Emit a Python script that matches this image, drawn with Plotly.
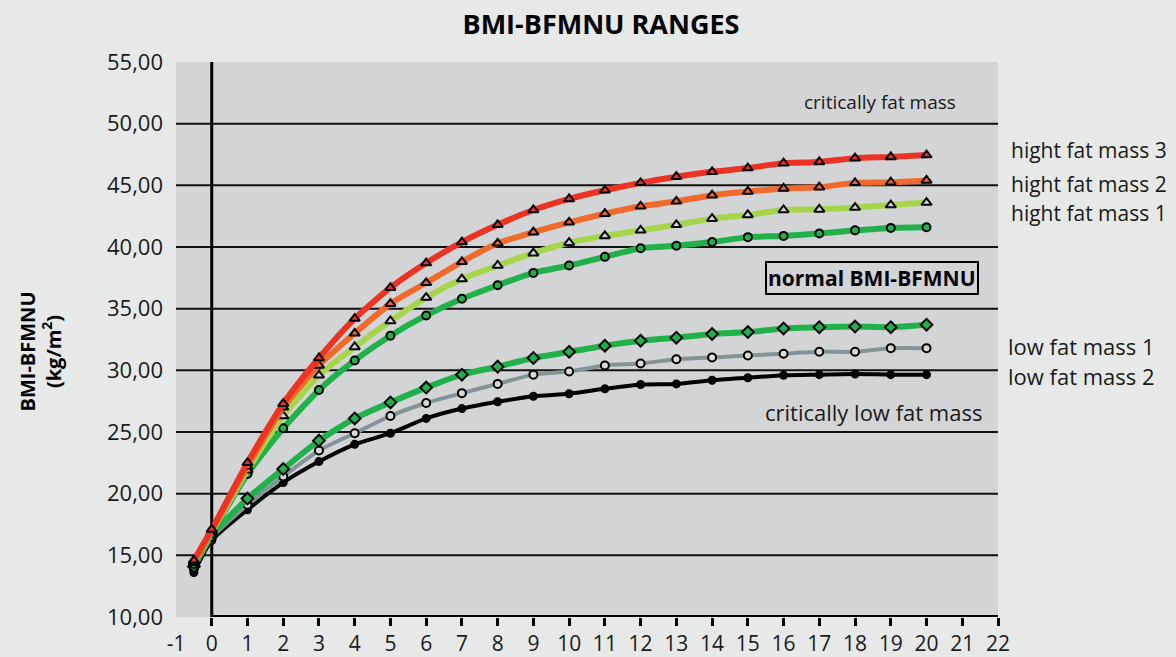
import plotly.graph_objects as go

# ---------------- data ----------------
ages = [-0.5, 0, 1, 2, 3, 4, 5, 6, 7, 8, 9, 10, 11, 12, 13, 14, 15, 16, 17, 18, 19, 20]

high_fat_3 = [14.6, 17.1, 22.5, 27.3, 31.0, 34.2, 36.7, 38.7, 40.4, 41.8, 43.0, 43.9,
              44.6, 45.2, 45.7, 46.1, 46.4, 46.8, 46.9, 47.2, 47.3, 47.45]
high_fat_2 = [14.5, 17.0, 22.2, 27.0, 30.4, 33.0, 35.4, 37.1, 38.8, 40.3, 41.2, 42.0,
              42.7, 43.3, 43.7, 44.2, 44.5, 44.75, 44.85, 45.2, 45.25, 45.4]
high_fat_1 = [14.4, 16.9, 21.9, 26.3, 29.6, 31.9, 34.0, 35.9, 37.4, 38.5, 39.5, 40.35,
              40.9, 41.35, 41.8, 42.3, 42.6, 43.0, 43.05, 43.2, 43.4, 43.6]
normal_upper = [14.3, 16.8, 21.6, 25.3, 28.4, 30.8, 32.8, 34.45, 35.8, 36.9, 37.9, 38.5,
                39.2, 39.9, 40.1, 40.4, 40.8, 40.9, 41.1, 41.35, 41.55, 41.6]
low_fat_1 = [14.1, 16.6, 19.6, 22.0, 24.3, 26.1, 27.4, 28.6, 29.65, 30.3, 31.0, 31.5,
             32.0, 32.4, 32.65, 32.95, 33.1, 33.4, 33.5, 33.55, 33.5, 33.7]
low_fat_2 = [13.9, 16.4, 19.1, 21.4, 23.5, 24.9, 26.3, 27.35, 28.15, 28.9, 29.65, 29.9,
             30.4, 30.55, 30.9, 31.05, 31.2, 31.35, 31.5, 31.5, 31.8, 31.8]
critical_low = [13.6, 16.2, 18.7, 20.9, 22.6, 24.0, 24.9, 26.1, 26.9, 27.45, 27.9, 28.1,
                28.5, 28.85, 28.9, 29.2, 29.4, 29.6, 29.65, 29.7, 29.65, 29.65]

x_tick_vals = list(range(-1, 23))
x_tick_text = [str(v).replace("\u2212", "-") for v in x_tick_vals]
x_minor_ticks = list(range(0, 23))
y_tick_vals = [10, 15, 20, 25, 30, 35, 40, 45, 50, 55]
grid_lines = [15, 20, 25, 30, 35, 40, 45, 50]

# ---------------- styles ----------------
PAPER = "#e6e9e8"
PLOT = "#d3d4d6"
FONT = "Open Sans"

W, H = 1176, 657
ML, MR, MT, MB = 176, 178, 62, 40
PW = W - ML - MR
PH = H - MT - MB


def px_x(px):
    """page pixel x -> paper fraction"""
    return (px - ML) / PW


def px_y(py):
    return (H - MB - py) / PH


series = [
    ("critically low", critical_low, "#000000", 4, "circle", "#000000", 7),
    ("low fat mass 2", low_fat_2, "#82949a", 4, "circle", "#d8d8d8", 8),
    ("low fat mass 1", low_fat_1, "#21b14b", 6, "diamond", "#21b14b", 9),
    ("normal", normal_upper, "#21b14b", 6, "circle", "#21b14b", 8),
    ("hight fat mass 1", high_fat_1, "#a6d54a", 6, "triangle-up", "#d8d8d8", 9),
    ("hight fat mass 2", high_fat_2, "#f26a2b", 6, "triangle-up", "#f26a2b", 9),
    ("hight fat mass 3", high_fat_3, "#ec3324", 6, "triangle-up", "#ec3324", 9),
]

fig = go.Figure()
for name, vals, col, lw, sym, fill, ms in series:
    fig.add_trace(go.Scatter(
        x=ages, y=vals, name=name, mode="lines+markers",
        line=dict(color=col, width=lw, shape="spline", smoothing=0.6),
        marker=dict(symbol=sym, size=ms, color=fill,
                    line=dict(color="#000000", width=2)),
        showlegend=False, cliponaxis=False,
    ))

# gridlines
for g in grid_lines:
    fig.add_shape(type="line", xref="x", yref="y", x0=-1, x1=22, y0=g, y1=g,
                  line=dict(color="#111111", width=2), layer="below")
# axes lines
fig.add_shape(type="line", xref="x", yref="y", x0=0, x1=0, y0=10, y1=55,
              line=dict(color="#000000", width=3), layer="below")
fig.add_shape(type="line", xref="x", yref="y", x0=0, x1=22, y0=10, y1=10,
              line=dict(color="#000000", width=4), layer="below")

ann = [
    (880, 102, "critically fat mass", "center", 19),
    (1009, 150, "hight fat mass 3", "left", 21),
    (1009, 184, "hight fat mass 2", "left", 21),
    (1009, 213, "hight fat mass 1", "left", 21),
    (1006, 346, "low fat mass 1", "left", 22),
    (1006, 376, "low fat mass 2", "left", 22),
    (873, 412, "critically low fat mass", "center", 22),
]
for px, py, text, xa, fs in ann:
    fig.add_annotation(xref="paper", yref="paper", x=px_x(px), y=px_y(py),
                       showarrow=False, yanchor="middle", xanchor=xa, text=text,
                       font=dict(family=FONT, size=fs, color="#1a1a1a"))

fig.add_annotation(xref="paper", yref="paper", x=px_x(872), y=px_y(278),
                   showarrow=False,
                   text="<b>normal BMI-BFMNU</b>", xanchor="center", yanchor="middle",
                   font=dict(family=FONT, size=21, color="#000000"),
                   bordercolor="#000000", borderwidth=2, borderpad=1,
                   bgcolor=PLOT)

fig.add_annotation(xref="paper", yref="paper", x=px_x(68), y=px_y(352),
                   xanchor="right", yanchor="middle", showarrow=False,
                   textangle=-90,
                   text="<b>BMI-BFMNU<br>(kg/m<sup>2</sup>)</b>",
                   font=dict(family=FONT, size=20, color="#000000"))

fig.update_layout(
    width=W, height=H,
    paper_bgcolor=PAPER, plot_bgcolor=PLOT,
    margin=dict(l=ML, r=MR, t=MT, b=MB),
    separators=",.",
    title=dict(text="<b>BMI-BFMNU RANGES</b>", x=px_x(601), xref="paper",
               xanchor="center", y=1 - 25 / H, yanchor="middle", yref="container",
               font=dict(family=FONT, size=27, color="#000000")),
    xaxis=dict(range=[-1, 22], tickvals=x_tick_vals, ticktext=x_tick_text,
               ticks="", showgrid=False, automargin=False,
               zeroline=False, showline=False, ticklabelstandoff=12,
               tickfont=dict(family=FONT, size=21, color="#1a1a1a"),
               minor=dict(tickvals=x_minor_ticks, ticks="outside", ticklen=8,
                          tickwidth=3, tickcolor="#000000", showgrid=False)),
    yaxis=dict(range=[10, 55], tickvals=y_tick_vals, tickformat=".2f", ticks="",
               showgrid=False, zeroline=False, showline=False, automargin=False,
               ticklabelstandoff=12,
               tickfont=dict(family=FONT, size=22, color="#1a1a1a")),
)

fig.write_html(
    "out.html",
    config={"displayModeBar": False},
    post_script="document.body.style.margin='0';document.body.style.overflow='hidden';"
                "document.body.style.background='" + PAPER + "';",
)
